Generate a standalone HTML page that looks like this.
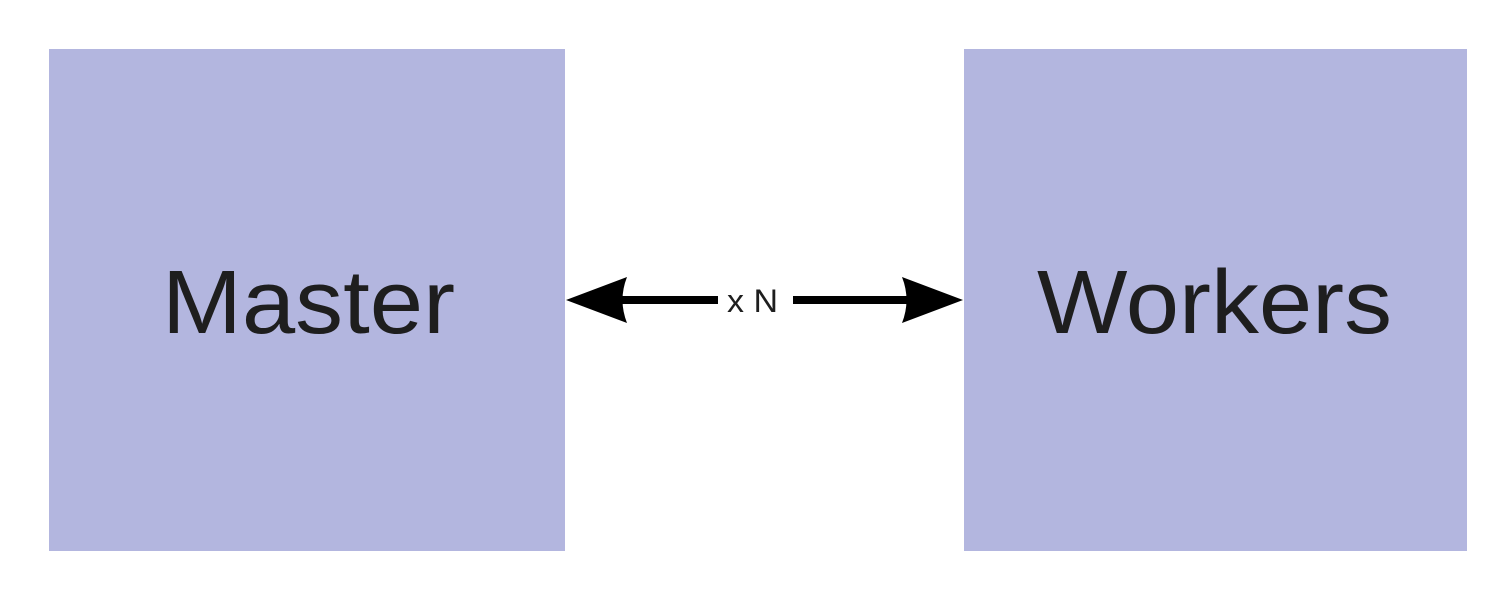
<!DOCTYPE html>
<html><head><meta charset="utf-8"><style>html,body{margin:0;padding:0;background:#fff}</style></head>
<body>
<svg width="1500" height="590" viewBox="0 0 1500 590" xmlns="http://www.w3.org/2000/svg">
<rect x="0" y="0" width="1500" height="590" fill="#fff"/>
<rect x="49" y="49" width="516" height="502" fill="#b3b6df"/>
<rect x="964" y="49" width="503" height="502" fill="#b3b6df"/>
<g font-family="Liberation Sans, DejaVu Sans, sans-serif" fill="#1e1e1e">
<text x="162" y="333" font-size="90" textLength="293" lengthAdjust="spacingAndGlyphs">Master</text>
<text x="1037" y="333" font-size="90" textLength="355" lengthAdjust="spacingAndGlyphs">Workers</text>
<text x="727" y="312" font-size="32" textLength="51" lengthAdjust="spacingAndGlyphs">x N</text>
</g>
<rect x="620" y="296" width="98" height="8" fill="#000"/>
<rect x="793" y="296" width="115" height="8" fill="#000"/>
<path d="M566 300 L627 277 Q618 300 627 323 Z" fill="#000"/>
<path d="M963 300 L902 277 Q911 300 902 323 Z" fill="#000"/>
</svg>
</body></html>
